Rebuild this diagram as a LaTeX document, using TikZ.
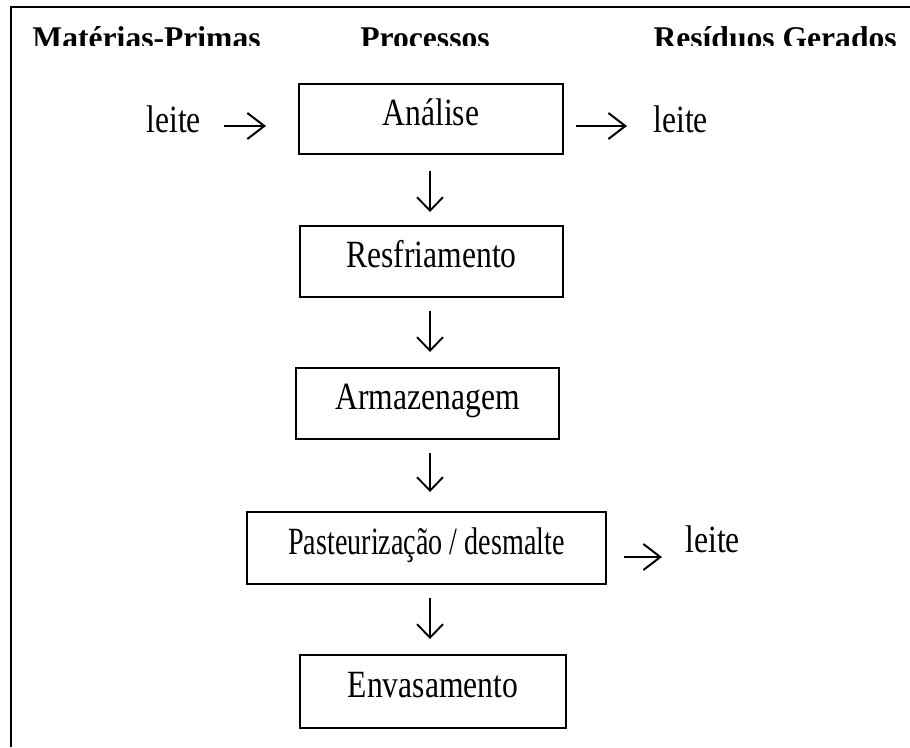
\documentclass[tikz,border=0pt]{standalone}
\usepackage{graphicx}
\usepackage{fontspec}
\setmainfont{Liberation Serif}
\usetikzlibrary{arrows.meta}
% body lettering is set slightly tall and narrow
\newcommand{\tall}[1]{\scalebox{1}[1.22]{#1}}
\newcommand{\tallnarrow}[1]{\scalebox{0.89}[1.22]{#1}}
\begin{document}
\begin{tikzpicture}[x=0.4pt,y=-0.4pt,
  every node/.style={font=\fontsize{12.64pt}{15pt}\selectfont},
  head/.style={font=\fontsize{12.64pt}{15pt}\selectfont\bfseries, inner sep=0pt, anchor=base west},
  word/.style={inner sep=0pt, anchor=base west},
  procbox/.style={draw, line width=0.8pt, inner sep=0pt, text height=8.8pt, text depth=4pt},
  vflow/.style={line width=0.75pt, -{Straight Barb[length=5.4pt,width=10.4pt]}},
  hflow/.style={line width=0.8pt, -{Straight Barb[length=6.8pt,width=10.4pt]}},
]
\useasboundingbox (0,0) rectangle (910,747);

% outer frame: left and top rules only
\draw[line width=0.8pt] (11,747) -- (11,7) -- (910,7);

% column headings, cut off at the bottom of their cell
\begin{scope}
  \clip (11,7) rectangle (910,45);
  \node[head] (hmp) at (32,48) {Matérias-Primas};
  \node[head, anchor=base] (hpr) at (425,48) {Processos};
  \node[head] (hrg) at (653,48) {Resíduos Gerados};
\end{scope}

% process steps
\node[procbox, minimum width=105.6pt, minimum height=28pt]   (an) at (431,119)     {\tall{Análise}};
\node[procbox, minimum width=105.2pt, minimum height=28.4pt] (rf) at (431.5,261.5) {\tall{Resfriamento}};
\node[procbox, minimum width=105.2pt, minimum height=28.4pt] (az) at (427.5,403.5) {\tall{Armazenagem}};
\node[procbox, minimum width=143.6pt, minimum height=28.8pt] (ps) at (426.5,548)   {\tallnarrow{Pasteurização / desmalte}};
\node[procbox, minimum width=106.4pt, minimum height=29.2pt] (ev) at (433,691.5)   {\tall{Envasamento}};

% inputs and residues
\node[word] (lin)   at (146,132) {\tall{leite}};
\node[word] (lout1) at (653,132) {\tall{leite}};
\node[word] (lout2) at (685,552) {\tall{leite}};

% guide lines for the arrows
\coordinate (axis) at (430,0);
\coordinate (row1) at (0,126);
\coordinate (row2) at (0,557);

% horizontal arrows
\draw[hflow, shorten <=9pt,   shorten >=12.8pt] (lin.east |- row1) -- (an.west |- row1);
\draw[hflow, shorten <=4.8pt, shorten >=10.4pt] (an.east |- row1)  -- (lout1.west |- row1);
\draw[hflow, shorten <=6.8pt, shorten >=9.2pt]  (ps.east |- row2)  -- (lout2.west |- row2);

% vertical arrows between the steps
\draw[vflow, shorten <=6.4pt, shorten >=5.2pt] (an.south -| axis) -- (rf.north -| axis);
\draw[vflow, shorten <=5.2pt, shorten >=6pt]   (rf.south -| axis) -- (az.north -| axis);
\draw[vflow, shorten <=5.2pt, shorten >=7.6pt] (az.south -| axis) -- (ps.north -| axis);
\draw[vflow, shorten <=5.2pt, shorten >=6pt]   (ps.south -| axis) -- (ev.north -| axis);
\end{tikzpicture}
\end{document}
